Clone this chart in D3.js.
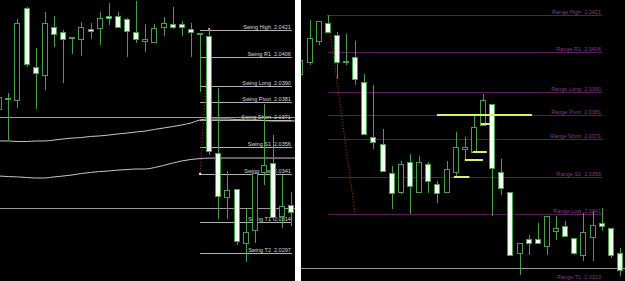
<!DOCTYPE html>
<html>
<head>
<meta charset="utf-8">
<script src="https://cdn.jsdelivr.net/npm/d3@7"></script>
<style>
  body { margin: 0; background: #000; }
  svg { display: block; }
</style>
</head>
<body>
<svg width="625" height="281"></svg>
<script>
// left chart: candles + two averages + swing levels
var leftOpen  = [2.03771, 2.03826, 2.03821, 2.04332, 2.04004, 2.03960, 2.04227, 2.04199, 2.04171, 2.04160, 2.04216, 2.04221, 2.04288, 2.04288, 2.04271, 2.04199, 2.04149, 2.04143, 2.04227, 2.04243, 2.04243, 2.04216, 2.04193, 2.04177, 2.03526, 2.03281, 2.03326, 2.03025, 2.03098, 2.03420, 2.03470, 2.03176, 2.03237];
var leftHigh  = [2.03849, 2.03860, 2.04271, 2.04338, 2.04110, 2.04310, 2.04288, 2.04210, 2.04171, 2.04254, 2.04249, 2.04310, 2.04360, 2.04310, 2.04277, 2.04371, 2.04243, 2.04243, 2.04282, 2.04338, 2.04260, 2.04249, 2.04193, 2.04210, 2.03888, 2.03426, 2.03326, 2.03215, 2.03420, 2.03798, 2.03626, 2.03404, 2.03309];
var leftLow   = [2.03754, 2.03598, 2.03776, 2.04004, 2.03771, 2.03876, 2.04115, 2.03915, 2.04077, 2.04065, 2.04160, 2.04127, 2.04238, 2.04221, 2.04060, 2.04138, 2.04088, 2.04138, 2.04177, 2.04216, 2.04177, 2.04060, 2.03865, 2.03515, 2.03159, 2.03159, 2.03014, 2.02920, 2.03025, 2.03348, 2.03153, 2.03109, 2.03120];
var leftClose = [2.03837, 2.03832, 2.04249, 2.04021, 2.03971, 2.04249, 2.04188, 2.04160, 2.04171, 2.04227, 2.04204, 2.04277, 2.04277, 2.04227, 2.04204, 2.04160, 2.04160, 2.04221, 2.04249, 2.04227, 2.04227, 2.04199, 2.04188, 2.03537, 2.03287, 2.03320, 2.03037, 2.03087, 2.03415, 2.03459, 2.03170, 2.03231, 2.03198];

var maUpper = [2.03593, 2.03593, 2.03590, 2.03590, 2.03593, 2.03593, 2.03598, 2.03604, 2.03609, 2.03612, 2.03618, 2.03621, 2.03626, 2.03632, 2.03637, 2.03643, 2.03648, 2.03657, 2.03665, 2.03673, 2.03682, 2.03693, 2.03710, 2.03715, 2.03715, 2.03715, 2.03712, 2.03710, 2.03710, 2.03707, 2.03704, 2.03704, 2.03704, 2.03704];
var maLower = [2.03398, 2.03395, 2.03393, 2.03390, 2.03387, 2.03387, 2.03393, 2.03398, 2.03404, 2.03412, 2.03418, 2.03423, 2.03426, 2.03431, 2.03434, 2.03437, 2.03437, 2.03445, 2.03457, 2.03470, 2.03482, 2.03490, 2.03495, 2.03498, 2.03498, 2.03498, 2.03498, 2.03498, 2.03498, 2.03498, 2.03498, 2.03498, 2.03498, 2.03498];

var swingNames  = ["Swing High", "Swing R1", "Swing Long", "Swing Pivot", "Swing Short", "Swing S1", "Swing Low", "Swing T1", "Swing T2"];
var swingLevels = [2.0421, 2.0406, 2.0390, 2.0381, 2.0371, 2.0356, 2.0341, 2.0314, 2.0297];
var leftGuides  = [2.03729, 2.03220];

// right chart: candles + range levels + signal segments
var rightOpen  = [2.03973, 2.04021, 2.04106, 2.04178, 2.04130, 2.04025, 2.04041, 2.03941, 2.03720, 2.03691, 2.03575, 2.03498, 2.03619, 2.03498, 2.03611, 2.03531, 2.03498, 2.03579, 2.03671, 2.03659, 2.03768, 2.03852, 2.03579, 2.03498, 2.03253, 2.03310, 2.03310, 2.03281, 2.03342, 2.03362, 2.03314, 2.03245, 2.03318, 2.03374, 2.03354, 2.03253];
var rightHigh  = [2.04041, 2.04190, 2.04186, 2.04210, 2.04142, 2.04134, 2.04106, 2.03973, 2.03929, 2.03752, 2.03603, 2.03623, 2.03651, 2.03643, 2.03619, 2.03543, 2.03623, 2.03740, 2.03720, 2.03804, 2.03892, 2.03852, 2.03631, 2.03498, 2.03293, 2.03326, 2.03374, 2.03402, 2.03402, 2.03382, 2.03314, 2.03414, 2.03422, 2.03434, 2.03354, 2.03273];
var rightLow   = [2.03953, 2.04009, 2.04089, 2.04142, 2.03953, 2.04009, 2.03929, 2.03732, 2.03671, 2.03579, 2.03430, 2.03490, 2.03410, 2.03494, 2.03494, 2.03454, 2.03494, 2.03559, 2.03627, 2.03659, 2.03768, 2.03402, 2.03486, 2.03245, 2.03165, 2.03245, 2.03293, 2.03245, 2.03305, 2.03322, 2.03245, 2.03221, 2.03221, 2.03342, 2.03233, 2.03161];
var rightClose = [2.04029, 2.04118, 2.04186, 2.04142, 2.04021, 2.04025, 2.03953, 2.03732, 2.03700, 2.03583, 2.03494, 2.03611, 2.03523, 2.03619, 2.03543, 2.03494, 2.03591, 2.03679, 2.03679, 2.03760, 2.03868, 2.03595, 2.03515, 2.03245, 2.03293, 2.03293, 2.03293, 2.03402, 2.03354, 2.03322, 2.03253, 2.03336, 2.03366, 2.03362, 2.03245, 2.03185];

var rangeNames  = ["Range High", "Range R1", "Range Long", "Range Pivot", "Range Short", "Range S1", "Range Low", "Range T1"];
var rangeLevels = [2.0421, 2.0406, 2.0390, 2.0381, 2.0371, 2.0356, 2.0341, 2.0313];
var rightGuides = [2.03193];

var signalFrom  = [14.96, 19.76, 18.88, 18.0, 16.8];
var signalTo    = [25.36, 20.75, 20.41, 20.0, 18.5];
var signalPrice = [2.03808, 2.03770, 2.03659, 2.03627, 2.03559];

var green = "#48a048";
var font = "'Liberation Sans', Arial, sans-serif";

var svg = d3.select("svg");
svg.append("rect").attr("width", 625).attr("height", 281).attr("fill", "#000");

function panel(id, x0, x1) {
  svg.append("clipPath").attr("id", id)
    .append("rect").attr("x", x0).attr("y", 0).attr("width", x1 - x0).attr("height", 281);
  return svg.append("g").attr("clip-path", "url(#" + id + ")");
}

function snap(v) { return Math.round(v) + 0.5; }

function drawCandles(g, x, y, O, H, L, C) {
  var idx = d3.range(O.length);
  g.append("g").selectAll("line").data(idx).enter().append("line")
    .attr("x1", function(i) { return snap(x(i)); })
    .attr("x2", function(i) { return snap(x(i)); })
    .attr("y1", function(i) { return y(H[i]); })
    .attr("y2", function(i) { return y(L[i]); })
    .attr("stroke", green);
  g.append("g").selectAll("rect").data(idx).enter().append("rect")
    .attr("x", function(i) { return Math.round(x(i)) - 2.5; })
    .attr("y", function(i) { return snap(y(Math.max(O[i], C[i]))); })
    .attr("width", 5)
    .attr("height", function(i) {
      return Math.max(1, Math.round(y(Math.min(O[i], C[i]))) - Math.round(y(Math.max(O[i], C[i]))));
    })
    .attr("fill", function(i) { return C[i] >= O[i] ? "#000" : "#f4fff4"; })
    .attr("stroke", green);
}

function drawLevels(g, x, y, names, levels, from, to, lineColor, textColor) {
  g.append("g").selectAll("line").data(levels).enter().append("line")
    .attr("x1", x(from)).attr("x2", x(to))
    .attr("y1", function(d) { return snap(y(d)); })
    .attr("y2", function(d) { return snap(y(d)); })
    .attr("stroke", lineColor);
  // labels sit just above their line, kept inside the picture
  g.append("g").selectAll("text").data(names).enter().append("text")
    .attr("x", x(to) - 1)
    .attr("y", function(d, i) { return Math.min(279, Math.round(y(levels[i])) - 1); })
    .attr("text-anchor", "end")
    .attr("font-family", font)
    .attr("font-size", 5.5)
    .attr("fill", textColor)
    .style("white-space", "pre")
    .text(function(d, i) { return d + "  " + levels[i].toFixed(4); });
}

function guides(g, y, vals, x0, x1) {
  g.append("g").selectAll("line").data(vals).enter().append("line")
    .attr("x1", x0).attr("x2", x1)
    .attr("y1", function(d) { return snap(y(d)); })
    .attr("y2", function(d) { return snap(y(d)); })
    .attr("stroke", "#9a9a9a");
}

function dotted(g, x, y, i0, p0, i1, p1) {
  g.append("line")
    .attr("x1", x(i0)).attr("y1", y(p0))
    .attr("x2", x(i1)).attr("y2", y(p1))
    .attr("stroke", "#d03030")
    .attr("stroke-dasharray", "1,2");
}

// ---- left panel
var xL = d3.scaleLinear().domain([0, 32]).range([-0.8, 291.4]);
var yL = d3.scaleLinear().domain([2.0421, 2.0297]).range([30, 253]);
var gL = panel("clipL", 0, 295);

guides(gL, yL, leftGuides, 0, 295);
drawLevels(gL, xL, yL, swingNames, swingLevels, 22, 32.05, "#b4b4b4", "#d8d8d8");

var maLine = d3.line()
  .x(function(d, i) { return xL(i); })
  .y(function(d) { return yL(d); })
  .curve(d3.curveMonotoneX);
[maUpper, maLower].forEach(function(ma) {
  gL.append("path").attr("d", maLine(ma))
    .attr("fill", "none").attr("stroke", "#c8c8c8").attr("stroke-width", 1);
});

dotted(gL, xL, yL, 23, swingLevels[0], 22, swingLevels[6]);
drawCandles(gL, xL, yL, leftOpen, leftHigh, leftLow, leftClose);
gL.append("rect").attr("x", xL(22) - 1).attr("y", yL(swingLevels[6]) - 1)
  .attr("width", 2).attr("height", 2).attr("fill", "#fff");
gL.append("rect").attr("x", xL(23) - 1).attr("y", yL(swingLevels[0]) - 2)
  .attr("width", 2).attr("height", 2).attr("fill", "#e0a070");

// ---- separator
svg.append("rect").attr("x", 295).attr("y", 0).attr("width", 6).attr("height", 281).attr("fill", "#fff");

// ---- right panel
var xR = d3.scaleLinear().domain([0, 35]).range([300.4, 620]);
var yR = d3.scaleLinear().domain([2.0421, 2.0341]).range([15, 214]);
var gR = panel("clipR", 301, 625);

guides(gR, yR, rightGuides, 301, 625);
drawLevels(gR, xR, yR, rangeNames, rangeLevels, 3, 33.03, "#5e1a5e", "#8a3a8a");
dotted(gR, xR, yR, 3, rangeLevels[0], 6, rangeLevels[6]);
drawCandles(gR, xR, yR, rightOpen, rightHigh, rightLow, rightClose);

gR.append("g").selectAll("line").data(signalPrice).enter().append("line")
  .attr("x1", function(d, i) { return xR(signalFrom[i]); })
  .attr("x2", function(d, i) { return xR(signalTo[i]); })
  .attr("y1", function(d) { return Math.round(yR(d)); })
  .attr("y2", function(d) { return Math.round(yR(d)); })
  .attr("stroke", "#d8f070")
  .attr("stroke-width", 2);
</script>
</body>
</html>
